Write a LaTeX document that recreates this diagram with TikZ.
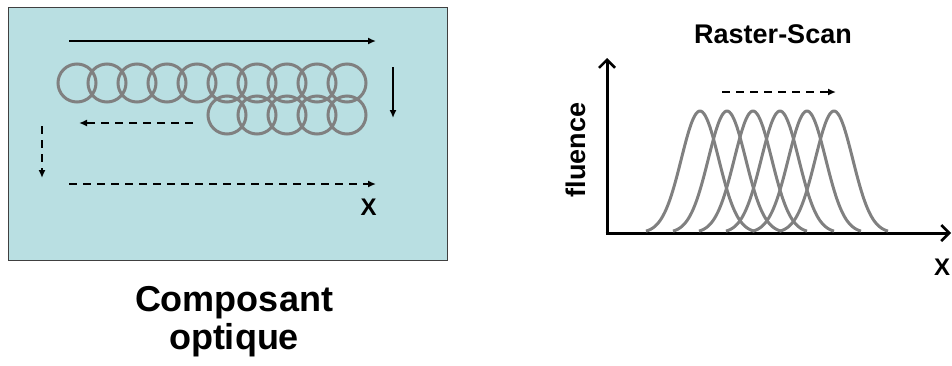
\documentclass[tikz,border=0pt]{standalone}
\usepackage{fontspec}
\setmainfont{Liberation Sans}
\usepackage{xcolor}
\usepackage{tikz}
\usetikzlibrary{arrows.meta}

\definecolor{panelblue}{HTML}{B9DFE2}
\definecolor{spotgray}{HTML}{808080}

\tikzset{
    scanarrow/.style={line width=2pt, -{Latex[length=8pt,width=7pt]}},
    scandash/.style={scanarrow, dash pattern=on 8pt off 6pt},
    axisline/.style={line width=3pt, -{Straight Barb[length=8pt,width=16pt,line width=2.5pt]}},
    spot/.style={draw=spotgray, line width=3pt},
    biglabel/.style={font=\fontsize{24}{28}\selectfont\bfseries, inner sep=0pt}
}

\begin{document}
\begin{tikzpicture}[x=1pt, y=-1pt]
    \useasboundingbox (0,0) rectangle (952,365);

    % Composant optique
    \node[draw=black!75, fill=panelblue, line width=1pt, minimum width=439pt, minimum height=253pt, anchor=north west] (panel) at (8,7) {};
    \node[align=center, inner sep=0pt, anchor=north, font=\fontsize{36}{38}\selectfont\bfseries] (optic) at (234,286) {Composant\\optique};

    % Spots
    \foreach \c in {77,107,...,347}
        \draw[spot] (\c,83) circle (19);
    \foreach \c in {227,257,...,347}
        \draw[spot] (\c,115) circle (19);

    % Scan path
    \coordinate (lineA) at (69,41);
    \coordinate (lineB) at (376,41);
    \coordinate (stepA) at (393,67);
    \coordinate (stepB) at (393,118);
    \coordinate (backA) at (193,123);
    \coordinate (backB) at (79,123);
    \coordinate (downA) at (42,126);
    \coordinate (downB) at (42,178);
    \coordinate (nextA) at (69,184);
    \coordinate (nextB) at (376,184);
    \draw[scanarrow] (lineA) -- (lineB);
    \draw[scanarrow] (stepA) -- (stepB);
    \draw[scandash] (backA) -- (backB);
    \draw[scandash] (downA) -- (downB);
    \draw[scandash] (nextA) -- (nextB);
    \node[biglabel, anchor=base] (xleft) at (368.5,215) {X};

    % Raster-Scan
    \node[anchor=base, inner sep=0pt, font=\fontsize{27}{30}\selectfont\bfseries] (title) at (773,43) {Raster-Scan};
    \coordinate (origin) at (607,233);
    \coordinate (ytip) at (607,58);
    \coordinate (xtip) at (951,233);
    \draw[axisline] (origin) -- (ytip);
    \draw[axisline] ([xshift=-1.5pt]origin) -- (xtip);
    \node[rotate=90, anchor=base, inner sep=0pt, font=\fontsize{27}{30}\selectfont\bfseries] (fluence) at (585,150) {fluence};
    \node[biglabel, anchor=base] (xright) at (942,275) {X};

    % Profiles
    \foreach \c in {700,727,753,780,807,834}
        \draw[spotgray, line width=3pt, line join=round] plot[domain=\c-54:\c+54, samples=70, smooth] (\x, {233-122*exp(-((\x-\c)^2)/(2*18.7*18.7))});
    \coordinate (moveA) at (722,92);
    \coordinate (moveB) at (836,92);
    \draw[scandash] (moveA) -- (moveB);
\end{tikzpicture}
\end{document}
